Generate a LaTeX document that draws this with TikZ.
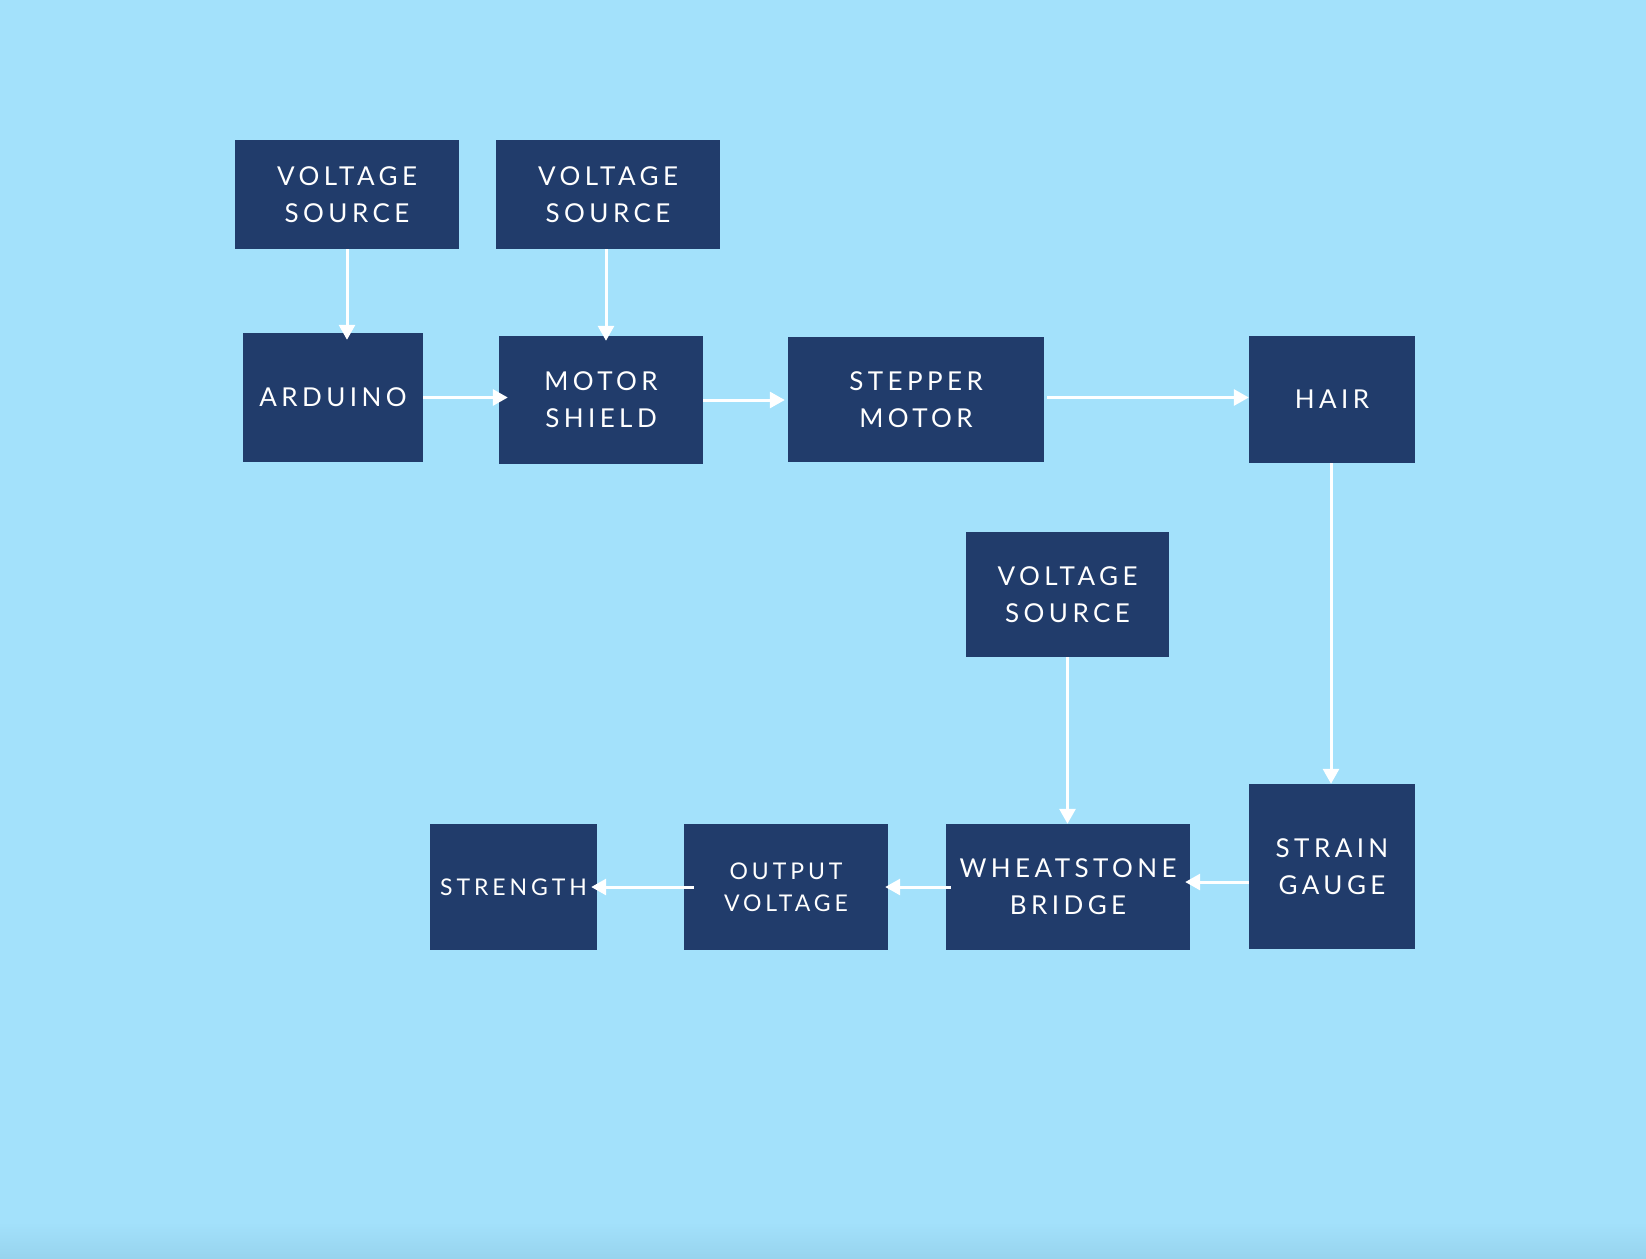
\documentclass[tikz,border=0pt]{standalone}
\usepackage{fontspec}
\usetikzlibrary{arrows.meta}
\newfontfamily\boxfont[LetterSpace=17]{Lato}
\definecolor{bgc}{HTML}{A3E1FB}
\definecolor{bgd}{HTML}{97D4EE}
\definecolor{boxc}{HTML}{213C6B}
\tikzset{
  blk/.style={fill=boxc, inner sep=0pt, align=center, text=white,
    font=\boxfont\fontsize{26}{37}\selectfont},
  blks/.style={blk, font=\boxfont\fontsize{23}{32}\selectfont},
  conn/.style={draw=white, line width=3pt, -{Triangle[length=15pt,width=16pt]}},
}
\begin{document}
\begin{tikzpicture}[x=1pt,y=-1pt]
\fill[bgc] (0,0) rectangle (1646,1258);
\shade[top color=bgc, bottom color=bgd] (0,1222) rectangle (1646,1258);
\useasboundingbox (0,0) rectangle (1646,1258);

\node[blk, minimum width=224pt, minimum height=109pt] (vs1) at (347,194.5) {VOLTAGE\\SOURCE};
\node[blk, minimum width=224pt, minimum height=109pt] (vs2) at (608,194.5) {VOLTAGE\\SOURCE};
\node[blk, minimum width=180pt, minimum height=129pt] (ard) at (333,397.5) {ARDUINO};
\node[blk, minimum width=204pt, minimum height=128pt] (ms) at (601,400) {MOTOR\\SHIELD};
\node[blk, minimum width=256pt, minimum height=125pt] (stp) at (916,399.5) {STEPPER\\MOTOR};
\node[blk, minimum width=166pt, minimum height=127pt] (hair) at (1332,399.5) {HAIR};
\node[blk, minimum width=203pt, minimum height=125pt] (vs3) at (1067.5,594.5) {VOLTAGE\\SOURCE};
\node[blk, minimum width=166pt, minimum height=165pt] (sg) at (1332,866.5) {STRAIN\\GAUGE};
\node[blk, minimum width=244pt, minimum height=126pt] (wb) at (1068,887) {WHEATSTONE\\BRIDGE};
\node[blks, minimum width=204pt, minimum height=126pt] (ov) at (786,887) {OUTPUT\\VOLTAGE};
\node[blks, minimum width=167pt, minimum height=126pt] (str) at (513.5,887) {STRENGTH};

\draw[conn, shorten >=-7pt] (vs1.south) -- (vs1.south |- ard.north);
\draw[conn, shorten >=-5pt] ([xshift=-2pt]vs2.south) -- ([xshift=-2pt]vs2.south |- ms.north);
\draw[conn, shorten >=-9pt] (ard.east) -- (ard.east -| ms.west);
\draw[conn, shorten >=3pt] (ms.east) -- (ms.east -| stp.west);
\draw[conn, shorten <=3pt] ([yshift=2pt]stp.east) -- ([yshift=2pt]stp.east -| hair.west);
\draw[conn] ([xshift=-1pt]hair.south) -- ([xshift=-1pt]hair.south |- sg.north);
\draw[conn] (vs3.south) -- (vs3.south |- wb.north);
\draw[conn, shorten >=-5pt] ([yshift=5pt]wb.east -| sg.west) -- ([yshift=5pt]wb.east);
\draw[conn, shorten <=-5pt, shorten >=-3pt] (wb.west) -- (ov.east);
\draw[conn, shorten <=-10pt, shorten >=-6pt] (ov.west) -- (str.east);
\end{tikzpicture}
\end{document}
